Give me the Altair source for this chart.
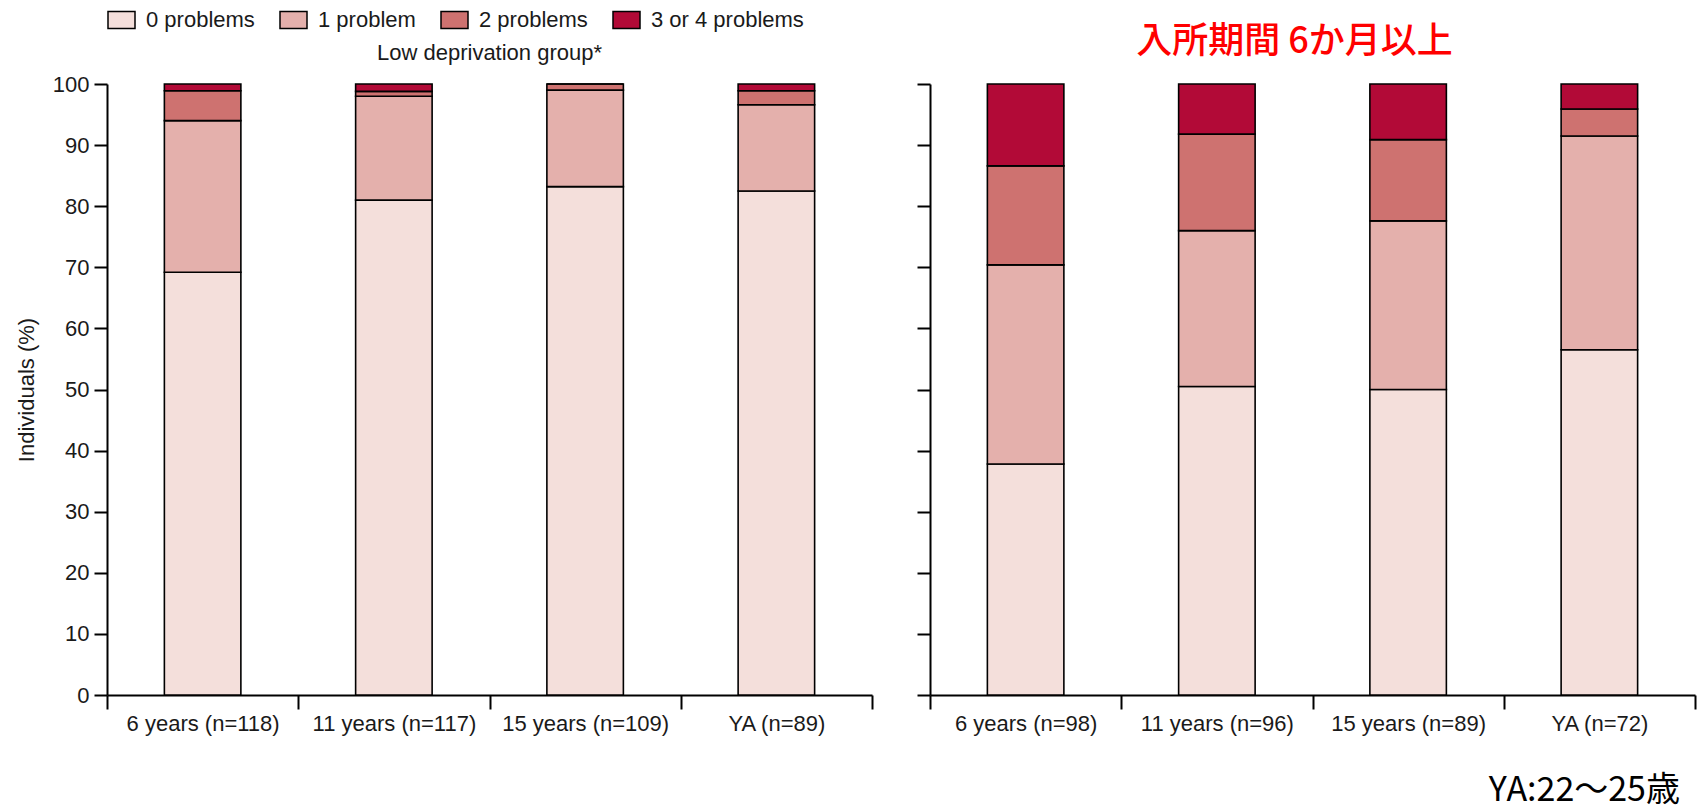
import altair as alt
import pandas as pd

# Problem-count categories, stacked from the bottom of each bar
categories = ["0 problems", "1 problem", "2 problems", "3 or 4 problems"]
colors = ["#F4DFDB", "#E4B0AC", "#CE7270", "#B20A37"]

# Low deprivation group (% of individuals)
low_labels = ["6 years (n=118)", "11 years (n=117)", "15 years (n=109)", "YA (n=89)"]
low_0 = [69.2, 81.0, 83.2, 82.5]
low_1 = [24.8, 17.0, 15.8, 14.1]
low_2 = [4.9, 0.8, 1.0, 2.3]
low_3 = [1.1, 1.2, 0.0, 1.1]

# Institutional care of 6 months or more (% of individuals)
care_labels = ["6 years (n=98)", "11 years (n=96)", "15 years (n=89)", "YA (n=72)"]
care_0 = [37.8, 50.5, 50.0, 56.5]
care_1 = [32.6, 25.5, 27.6, 35.0]
care_2 = [16.2, 15.8, 13.3, 4.4]
care_3 = [13.4, 8.2, 9.1, 4.1]

note_text = ["YA:22〜25歳"]

FONT = "Liberation Sans"
PANEL_W = 765
PANEL_H = 611


def to_long(labels, series):
    rows = []
    for rank, (cat, vals) in enumerate(zip(categories, series)):
        for lab, v in zip(labels, vals):
            rows.append({"group": lab, "problems": cat, "pct": v, "rank": rank})
    return pd.DataFrame(rows)


legend = alt.Legend(
    title=None,
    orient="none",
    legendX=0,
    legendY=-79,
    direction="horizontal",
    symbolType="M-1,-0.63L1,-0.63L1,0.63L-1,0.63Z",
    symbolSize=729,
    symbolStrokeColor="black",
    symbolStrokeWidth=1.5,
    symbolOpacity=1,
    labelFont=FONT,
    labelFontSize=22,
    labelColor="#1a1a1a",
    labelOffset=10,
    columnPadding=22,
)


def panel(labels, series, show_y):
    df = to_long(labels, series)
    y_axis = alt.Axis(
        values=list(range(0, 101, 10)),
        title="Individuals (%)" if show_y else None,
        labels=show_y,
        tickSize=13,
        labelPadding=5,
        titlePadding=14,
        grid=False,
    )
    return (
        alt.Chart(df)
        .mark_bar(width=alt.RelativeBandSize(0.4), stroke="black", strokeWidth=1.6)
        .encode(
            x=alt.X(
                "group:N",
                sort=labels,
                scale=alt.Scale(paddingInner=0, paddingOuter=0),
                axis=alt.Axis(title=None, labelAngle=0, tickBand="extent",
                              tickSize=14, labelPadding=4),
            ),
            y=alt.Y("pct:Q", stack="zero",
                    scale=alt.Scale(domain=[0, 100], nice=False), axis=y_axis),
            color=alt.Color("problems:N", sort=categories,
                            scale=alt.Scale(domain=categories, range=colors),
                            legend=legend),
            order=alt.Order("rank:Q"),
        )
        .properties(width=PANEL_W, height=PANEL_H)
    )


left = panel(low_labels, [low_0, low_1, low_2, low_3], True).properties(
    title=alt.TitleParams("Low deprivation group*", font=FONT, fontSize=22,
                          fontWeight="normal", color="#1a1a1a", offset=8,
                          anchor="middle"),
)

right_bars = panel(care_labels, [care_0, care_1, care_2, care_3], False)

note = (
    alt.Chart(pd.DataFrame({"note": note_text}))
    .mark_text(font="Noto Sans CJK JP", fontSize=34, align="right",
               baseline="middle", color="black")
    .encode(x=alt.value(750), y=alt.value(707), text="note:N")
)

right = alt.layer(right_bars, note).properties(
    width=PANEL_W, height=PANEL_H,
    title=alt.TitleParams("入所期間 6か月以上", font="Noto Sans CJK JP",
                          fontSize=36, fontWeight=500, color="#FF0000",
                          offset=22, anchor="middle", dx=-18),
)

chart = (
    alt.hconcat(left, right, spacing=58, bounds="flush")
    .properties(padding={"left": 15, "top": 5, "right": 3, "bottom": 2})
    .configure_view(stroke=None)
    .configure_axis(
        domainColor="black", domainWidth=2, tickColor="black", tickWidth=2,
        labelFont=FONT, labelFontSize=22, labelColor="#1a1a1a",
        titleFont=FONT, titleFontSize=22, titleFontWeight="normal",
        titleColor="#1a1a1a",
    )
)

chart.save("out.html", embed_options={"renderer": "svg", "actions": False})
